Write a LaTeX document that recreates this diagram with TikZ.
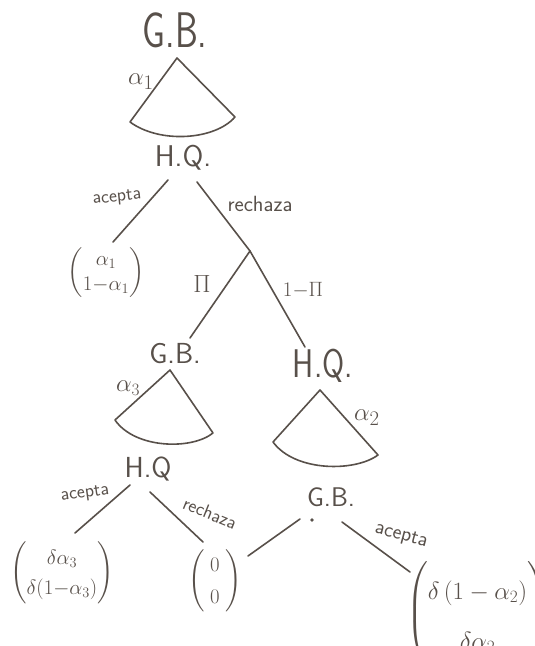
\documentclass[tikz,border=0pt]{standalone}
\usepackage{amsmath}
\definecolor{ink}{RGB}{88,80,74}
\newcommand{\fsz}[2]{\fontsize{#1}{#2}\selectfont}
\setlength{\arraycolsep}{2pt}
\tikzset{
  edge/.style={draw=ink, line width=1.6pt, line cap=round, line join=round},
  player/.style={text=ink, inner sep=0pt},
  lbl/.style={text=ink, inner sep=0pt, font=\sffamily\fsz{19}{19}},
  glbl/.style={text=ink, inner sep=0pt, font=\fsz{26}{26}},
  payoff/.style={text=ink, inner sep=0pt},
}
\begin{document}
\begin{tikzpicture}[x=1pt,y=-1pt]
\useasboundingbox (0,0) rectangle (535,646);
\clip (0,0) rectangle (535,646);

% players
\node[player, font=\sffamily\fsz{50}{50}] (gb1) at (175,30) {\scalebox{0.73}[1]{G.B.}};
\node[player, font=\sffamily\fsz{30}{30}] (hq1) at (183,158) {H.Q.};
\node[player, font=\sffamily\fsz{29}{29}] (gb2) at (175,354) {G.B.};
\node[player, font=\sffamily\fsz{40}{40}] (hq2) at (323,366) {\scalebox{0.8}[1]{H.Q.}};
\node[player, font=\sffamily\fsz{29}{29}] (hq3) at (148,469) {H.Q};
\node[player, font=\sffamily\fsz{27}{27}] (gb3) at (331,497) {G.B.};
\node[fill=ink, circle, inner sep=1.3pt] (dot) at (312,520) {};

% fan of G.B. (top)
\coordinate (f1a) at (177,58);
\coordinate (f1l) at (130,122);
\coordinate (f1r) at (235,117);
\draw[edge] (f1l) -- (f1a) -- (f1r) .. controls (215,140) and (160,144) .. (f1l);
\node[glbl, font=\fsz{28}{28}] (al1) at (141,82) {$\alpha_1$};

% H.Q. top decisions
\coordinate (hq1L) at (168,180);
\coordinate (v1T) at (113,242);
\coordinate (hq1R) at (197,182);
\coordinate (ch) at (250,251);
\draw[edge] (hq1L) -- (v1T);
\draw[edge] (hq1R) -- (ch);
\node[lbl, rotate=6] (acc1) at (117,198) {acepta};
\node[lbl, font=\sffamily\fsz{22}{22}] (rej1) at (260,204) {rechaza};
\node[payoff, font=\fsz{21}{25}] (v1) at (106,273) {$\begin{pmatrix}\alpha_1\\ 1{-}\alpha_1\end{pmatrix}$};

% chance node
\coordinate (chL) at (190,338);
\coordinate (chR) at (305,347);
\draw[edge] (chL) -- (ch) -- (chR);
\node[glbl] (pi) at (202,284) {$\Pi$};
\node[glbl, font=\fsz{22}{22}] (omp) at (303,290) {$1{-}\Pi$};

% fan of G.B. (second level)
\coordinate (f3a) at (170,370);
\coordinate (f3l) at (115,420);
\coordinate (f3r) at (213,433);
\draw[edge] (f3l) -- (f3a) -- (f3r) .. controls (192,450) and (135,449) .. (f3l);
\node[glbl] (al3) at (128,388) {$\alpha_3$};

% fan of H.Q. (second level)
\coordinate (f2a) at (320,390);
\coordinate (f2l) at (273,442);
\coordinate (f2r) at (378,455);
\draw[edge] (f2l) -- (f2a) -- (f2r) .. controls (355,472) and (295,472) .. (f2l);
\node[glbl, font=\fsz{30}{30}] (al2) at (367,418) {$\alpha_2$};

% H.Q bottom decisions
\coordinate (hq3L) at (130,485);
\coordinate (v3T) at (75,533);
\coordinate (hq3R) at (150,492);
\coordinate (v0T) at (203,542);
\draw[edge] (hq3L) -- (v3T);
\draw[edge] (hq3R) -- (v0T);
\node[lbl, rotate=8] (acc3) at (85,494) {acepta};
\node[lbl, rotate=-22] (rej3) at (210,513) {rechaza};
\node[payoff, font=\fsz{22}{30}] (v3) at (62,573) {$\begin{pmatrix}\delta\alpha_3\\ \delta(1{-}\alpha_3)\end{pmatrix}$};
\node[payoff, font=\fsz{22}{32}] (v0) at (215,581) {$\begin{pmatrix}\;0\;\\ \;0\;\end{pmatrix}$};

% G.B. bottom decisions
\coordinate (gbL) at (300,519);
\coordinate (v0R) at (248,556);
\coordinate (gbR) at (342,522);
\coordinate (v2T) at (410,572);
\draw[edge] (gbL) -- (v0R);
\draw[edge] (gbR) -- (v2T);
\node[lbl, font=\sffamily\fsz{21}{21}, rotate=-15] (acc2) at (401,536) {acepta};
\node[payoff, font=\fsz{25}{50}, anchor=west] (v2) at (406,614) {$\begin{pmatrix}\delta\,(1-\alpha_2)\\ \delta\alpha_2\end{pmatrix}$};
\end{tikzpicture}
\end{document}
